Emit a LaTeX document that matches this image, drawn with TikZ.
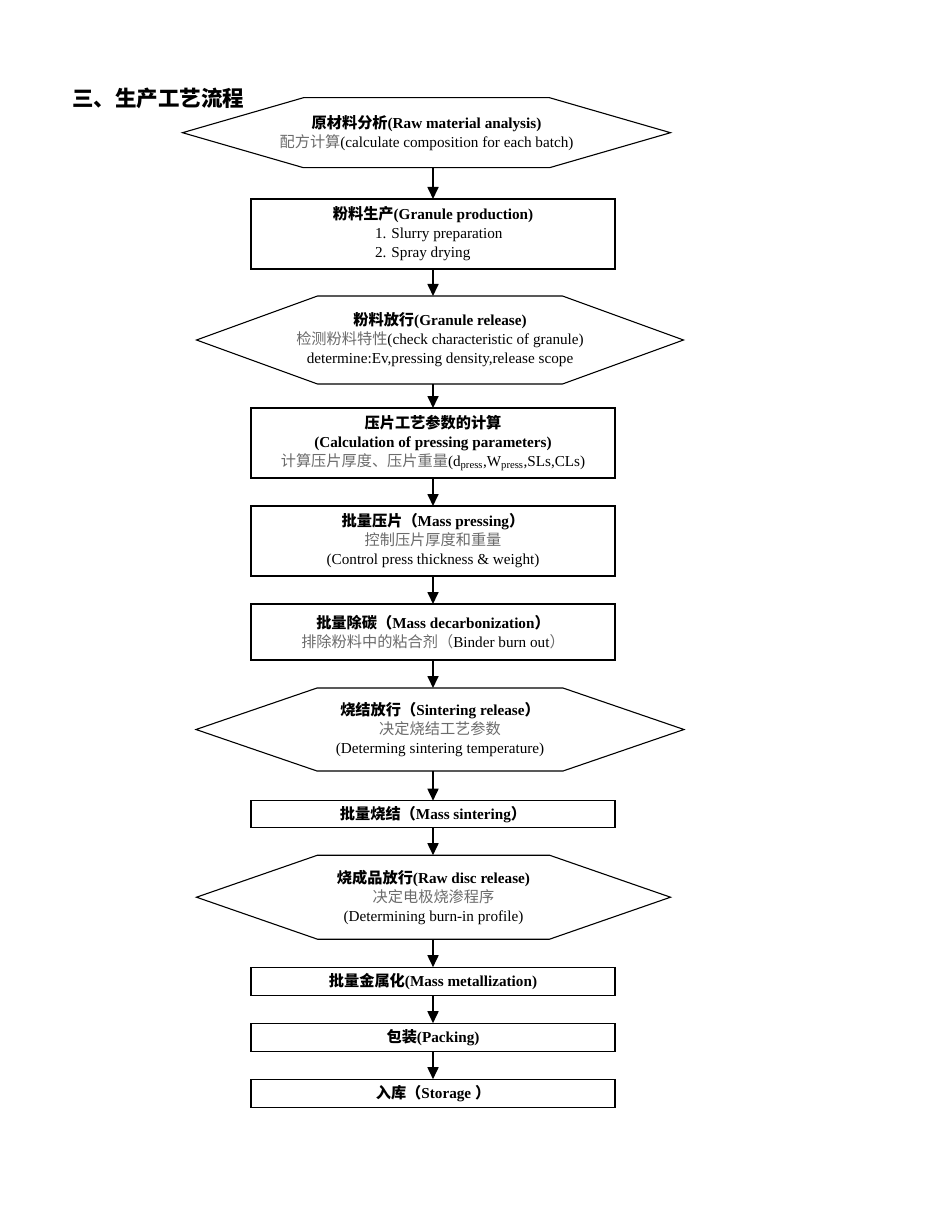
\documentclass[tikz,border=0pt]{standalone}
\usepackage{fontspec}
\setmainfont{Liberation Serif}
\newfontfamily\cjk{Noto Sans CJK SC}
\usetikzlibrary{positioning, arrows.meta}

\definecolor{zhgray}{gray}{0.42}
\newcommand{\zh}[1]{{\cjk #1}}
\newcommand{\zhg}[1]{{\cjk\color{zhgray}#1}}

\begin{document}
\begin{tikzpicture}[x=1pt, y=1pt,
    every node/.style={font=\fontsize{15.2}{19}\selectfont, outer sep=0pt},
    procbox/.style={draw, line width=1.1pt, minimum width=364pt, inner sep=1pt, align=center},
    hexbox/.style={inner sep=1pt, align=center},
    hexline/.style={draw, line width=1.1pt},
    flow/.style={line width=1.7pt, -{Triangle[length=12pt, width=11pt]}}]
  \path[use as bounding box] (0,0) rectangle (950,-1230);

  \node[anchor=west, font=\fontsize{21.5}{24}\cjk\bfseries] (title) at (69,-98.5) {三、生产工艺流程};

  \node[hexbox, minimum width=488pt, minimum height=70pt] (h1) at (426.5,-132.7)
    {\textbf{\zh{原材料分析}(Raw material analysis)}\\
     \zhg{配方计算}(calculate composition for each batch)};
  \node[procbox, minimum height=70pt, below=31.3pt of h1, xshift=6.5pt] (b1)
    {\textbf{\zh{粉料生产}(Granule production)}\\
     \hspace*{14pt}\makebox[130pt][l]{1. Slurry preparation}\\
     \hspace*{14pt}\makebox[130pt][l]{2. Spray drying}};
  \node[hexbox, minimum width=487pt, minimum height=88pt, below=27pt of b1, xshift=7pt] (h2)
    {\textbf{\zh{粉料放行}(Granule release)}\\
     \zhg{检测粉料特性}(check characteristic of granule)\\
     determine:Ev,pressing density,release scope};
  \node[procbox, minimum height=70pt, below=24pt of h2, xshift=-7pt] (b2)
    {\textbf{\zh{压片工艺参数的计算}}\\
     \textbf{(Calculation of pressing parameters)}\\
     \zhg{计算压片厚度、压片重量}(d\textsubscript{press},W\textsubscript{press},SLs,CLs)};
  \node[procbox, minimum height=70pt, below=28pt of b2] (b3)
    {\textbf{\zh{批量压片（}Mass pressing\zh{）}}\\
     \zhg{控制压片厚度和重量}\\
     (Control press thickness \& weight)};
  \node[procbox, minimum height=56pt, below=28pt of b3] (b4)
    {\textbf{\zh{批量除碳（}Mass decarbonization\zh{）}}\\
     \zhg{排除粉料中的粘合剂（}Binder burn out\zhg{）}};
  \node[hexbox, minimum width=488pt, minimum height=83pt, below=28pt of b4, xshift=7pt] (h3)
    {\textbf{\zh{烧结放行（}Sintering release\zh{）}}\\
     \zhg{决定烧结工艺参数}\\
     (Determing sintering temperature)};
  \node[procbox, minimum height=27pt, below=29.7pt of h3, xshift=-7pt] (b5)
    {\textbf{\zh{批量烧结（}Mass sintering\zh{）}}};
  \node[hexbox, minimum width=474pt, minimum height=84pt, below=27.5pt of b5, xshift=0.5pt] (h4)
    {\textbf{\zh{烧成品放行}(Raw disc release)}\\
     \zhg{决定电极烧渗程序}\\
     (Determining burn-in profile)};
  \node[procbox, minimum height=28.5pt, below=28pt of h4, xshift=-0.5pt] (b6)
    {\textbf{\zh{批量金属化}(Mass metallization)}};
  \node[procbox, minimum height=28.5pt, below=27.5pt of b6] (b7)
    {\textbf{\zh{包装}(Packing)}};
  \node[procbox, minimum height=28.5pt, below=27.5pt of b7] (b8)
    {\textbf{\zh{入库（}Storage \zh{）}}};

  % hexagon outlines
  \foreach \h in {h1,h2,h3,h4}
    \draw[hexline] ([xshift=121pt]\h.north west) -- ([xshift=-121pt]\h.north east) -- (\h.east)
      -- ([xshift=-121pt]\h.south east) -- ([xshift=121pt]\h.south west) -- (\h.west) -- cycle;

  \foreach \a/\b in {h1/b1, b1/h2, h2/b2, b2/b3, b3/b4, b4/h3, h3/b5, b5/h4, h4/b6, b6/b7, b7/b8}
    \draw[flow] (\a.south -| b1) -- (\b.north -| b1);
\end{tikzpicture}
\end{document}
